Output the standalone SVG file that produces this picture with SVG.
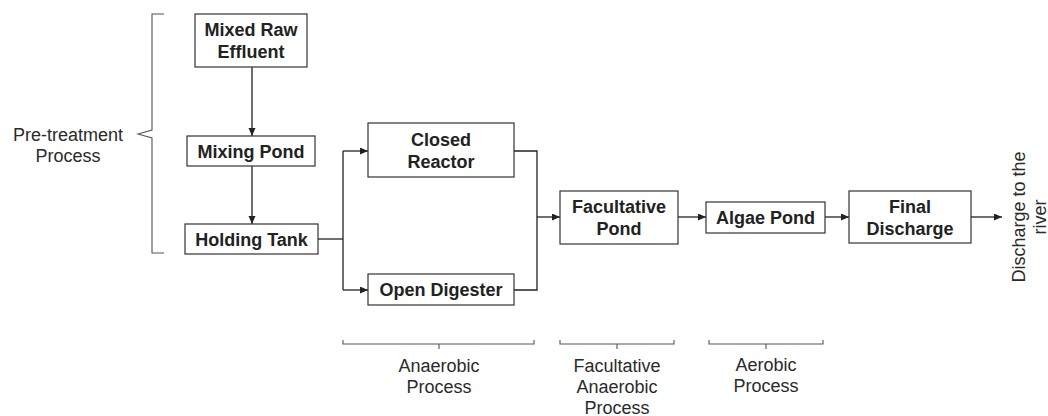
<svg xmlns="http://www.w3.org/2000/svg" width="1048" height="416" viewBox="0 0 1048 416">
<style>
.box{fill:#fff;stroke:#333;stroke-width:1.2}
.lbl{font-family:"Liberation Sans",Arial,sans-serif;font-size:18px;font-weight:bold;fill:#222;text-anchor:middle}
.note{font-family:"Liberation Sans",Arial,sans-serif;font-size:18px;fill:#2a2a2a;text-anchor:middle}
.ln{fill:none;stroke:#222;stroke-width:1.3}
.br{fill:none;stroke:#555;stroke-width:1.1}
</style>
<defs>
<marker id="ah" markerUnits="userSpaceOnUse" markerWidth="9" markerHeight="8" refX="8" refY="3.5" orient="auto">
<path d="M0,0 L8,3.5 L0,7 z" fill="#222"/>
</marker>
</defs>
<rect width="1048" height="416" fill="#fff"/>
<g id="connectors">
<path class="ln" d="M252,67 V136" marker-end="url(#ah)"/>
<path class="ln" d="M252,166 V224" marker-end="url(#ah)"/>
<path class="ln" d="M318,239 H343"/>
<path class="ln" d="M343,151 V290"/>
<path class="ln" d="M343,151 H368" marker-end="url(#ah)"/>
<path class="ln" d="M343,290 H368" marker-end="url(#ah)"/>
<path class="ln" d="M514,151 H537 V290 H514"/>
<path class="ln" d="M537,217 H560" marker-end="url(#ah)"/>
<path class="ln" d="M678,217 H706" marker-end="url(#ah)"/>
<path class="ln" d="M825,217 H849" marker-end="url(#ah)"/>
<path class="ln" d="M971,217 H1002" marker-end="url(#ah)"/>
</g>
<g id="node-mixed-raw-effluent">
<rect class="box" x="195" y="14" width="112" height="53"/>
<text class="lbl" x="251" y="36">Mixed Raw</text>
<text class="lbl" x="251" y="58">Effluent</text>
</g>
<g id="node-mixing-pond">
<rect class="box" x="187" y="136" width="128" height="30"/>
<text class="lbl" x="251" y="157.5">Mixing Pond</text>
</g>
<g id="node-holding-tank">
<rect class="box" x="185" y="224" width="133" height="30"/>
<text class="lbl" x="251.5" y="245.5">Holding Tank</text>
</g>
<g id="node-closed-reactor">
<rect class="box" x="368" y="123" width="146" height="54"/>
<text class="lbl" x="441" y="146">Closed</text>
<text class="lbl" x="441" y="168">Reactor</text>
</g>
<g id="node-open-digester">
<rect class="box" x="368" y="274" width="146" height="31"/>
<text class="lbl" x="441" y="296">Open Digester</text>
</g>
<g id="node-facultative-pond">
<rect class="box" x="560" y="191" width="118" height="53"/>
<text class="lbl" x="619" y="213">Facultative</text>
<text class="lbl" x="619" y="235">Pond</text>
</g>
<g id="node-algae-pond">
<rect class="box" x="706" y="202" width="119" height="31"/>
<text class="lbl" x="765.5" y="224">Algae Pond</text>
</g>
<g id="node-final-discharge">
<rect class="box" x="849" y="191" width="122" height="52"/>
<text class="lbl" x="910" y="213">Final</text>
<text class="lbl" x="910" y="235">Discharge</text>
</g>
<g id="discharge-label">
<text class="note" transform="translate(1025,217) rotate(-90)" x="0" y="0">Discharge to the</text>
<text class="note" transform="translate(1046,217) rotate(-90)" x="0" y="0">river</text>
</g>
<g id="pretreatment-group">
<path class="br" d="M164,14 H152 V130 L138,134 L152,138 V253 H164"/>
<text class="note" x="68" y="141">Pre-treatment</text>
<text class="note" x="68" y="162">Process</text>
</g>
<g id="anaerobic-group">
<path class="br" d="M343,340 V344 H534 V340 M439,344 V349"/>
<text class="note" x="439" y="372">Anaerobic</text>
<text class="note" x="439" y="393">Process</text>
</g>
<g id="facultative-group">
<path class="br" d="M560,340 V344 H674 V340 M617,344 V349"/>
<text class="note" x="617" y="372">Facultative</text>
<text class="note" x="617" y="393">Anaerobic</text>
<text class="note" x="617" y="414">Process</text>
</g>
<g id="aerobic-group">
<path class="br" d="M709,340 V344 H823 V340 M766,344 V349"/>
<text class="note" x="766" y="371">Aerobic</text>
<text class="note" x="766" y="392">Process</text>
</g>
</svg>
